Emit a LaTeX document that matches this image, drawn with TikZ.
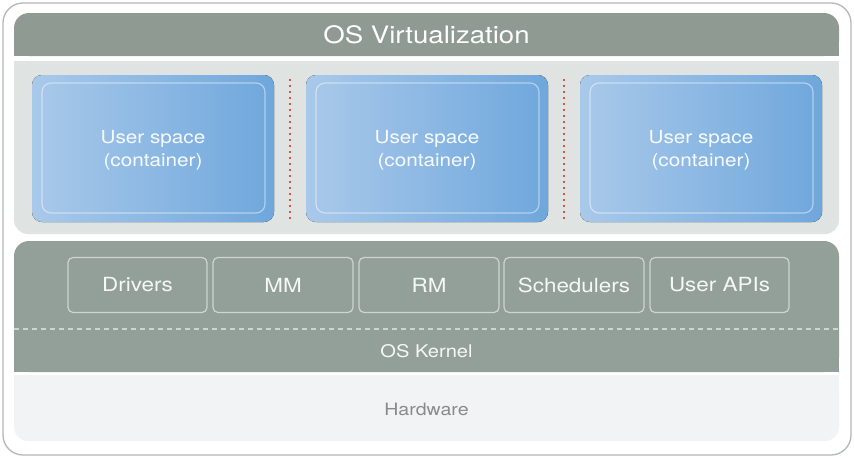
\documentclass[tikz,border=0pt]{standalone}
\usepackage{fontspec}
\setmainfont{TeX Gyre Heros}[FakeStretch=1.15]
\definecolor{framegray}{HTML}{B4B8B6}
\definecolor{headgreen}{HTML}{8F9A93}
\definecolor{kernelgreen}{HTML}{93A099}
\definecolor{lightpanel}{HTML}{DFE3E1}
\definecolor{hwpanel}{HTML}{F2F3F5}
\definecolor{blueL}{HTML}{A9C9EA}
\definecolor{blueR}{HTML}{6FA7DC}
\definecolor{boxline}{HTML}{CDD5D0}
\definecolor{dotred}{HTML}{D9534F}
\definecolor{hwtext}{HTML}{8A8A8A}
\tikzset{
  container/.style={rounded corners=10pt, left color=blueL, right color=blueR, draw=none},
  inner/.style={rounded corners=9pt, draw=white, draw opacity=0.45, line width=1.2pt},
  ctext/.style={text=white!92!blueL, font=\fontsize{18}{23}\selectfont, align=center},
  kbox/.style={rounded corners=5pt, draw=boxline, line width=1.2pt, minimum height=55pt, text=white!92!kernelgreen, font=\fontsize{19.5}{22}\selectfont},
  reddots/.style={dotred, line width=2.6pt, dash pattern=on 2.4pt off 3.6pt},
}
\begin{document}
\begin{tikzpicture}[x=1pt,y=-1pt]
\useasboundingbox (0,0) rectangle (854,458);
\fill[white] (0,0) rectangle (854,458);
\draw[framegray, line width=1.3pt, rounded corners=20pt, fill=white] (3,3) rectangle (851,455);
% header
\fill[headgreen, rounded corners=15pt] (14,13) rectangle (839,56);
\fill[headgreen] (14,35) rectangle (839,56);
\node[text=white, font=\fontsize{24}{26}\selectfont] (title) at (426.5,35) {OS Virtualization};
% light panel
\fill[lightpanel, rounded corners=14pt] (14,61) rectangle (839,234);
\fill[lightpanel] (14,61) rectangle (839,100);
% containers
\foreach \x/\n in {32/c1, 306/c2, 580/c3}{
  \fill[container] (\x,75) rectangle ++(242,147);
  \draw[inner] (\x+10,83) rectangle ++(223,130);
  \node[ctext] (\n) at (\x+121,150.5) {User space\\(container)};
}
\coordinate (d1t) at (290,79); \coordinate (d1b) at (290,220);
\coordinate (d2t) at (564,79); \coordinate (d2b) at (564,220);
\draw[reddots] (d1t) -- (d1b);
\draw[reddots] (d2t) -- (d2b);
% kernel
\fill[kernelgreen, rounded corners=15pt] (14,241) rectangle (839,372);
\fill[kernelgreen] (14,300) rectangle (839,372);
\node[kbox, minimum width=139pt] (drv) at (137.5,285) {Drivers};
\node[kbox, minimum width=140pt] (mm) at (283,285) {MM};
\node[kbox, minimum width=140pt] (rm) at (429,285) {RM};
\node[kbox, minimum width=140pt] (sch) at (574,285) {Schedulers};
\node[kbox, minimum width=139pt] (api) at (719.5,285) {User APIs};
\coordinate (kl) at (14,329); \coordinate (kr) at (839,329);
\draw[boxline, line width=1.2pt, dash pattern=on 5pt off 4pt] (kl) -- (kr);
\node[text=white!92!kernelgreen, font=\fontsize{17.5}{20}\selectfont] (kern) at (426.5,351) {OS Kernel};
% hardware
\fill[hwpanel, rounded corners=14pt] (14,375) rectangle (839,441);
\fill[hwpanel] (14,375) rectangle (839,400);
\node[text=hwtext, font=\fontsize{17}{19}\selectfont] (hw) at (426.5,409) {Hardware};
\end{tikzpicture}
\end{document}
